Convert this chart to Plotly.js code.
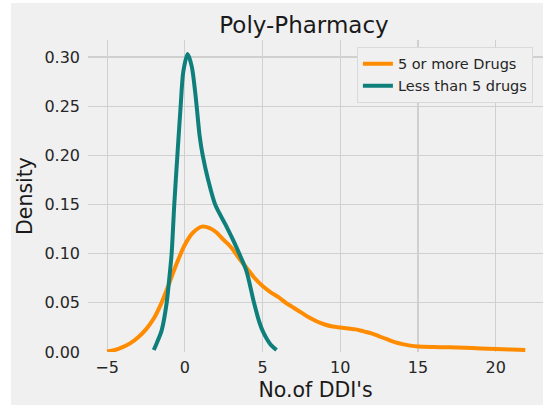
<!DOCTYPE html>
<html>
<head>
<meta charset="utf-8">
<script src="https://cdn.plot.ly/plotly-3.0.1.min.js"></script>
<style>
  html, body { margin: 0; padding: 0; background: #ffffff; overflow: hidden; }
  #chart { position: absolute; left: 11px; top: 3px; width: 532px; height: 402px; }
</style>
</head>
<body>
<div id="chart"></div>
<script>
// Series names
const seriesNames = ["5 or more Drugs", "Less than 5 drugs"];

// KDE curve for "5 or more Drugs"
const moreX = [-5.0, -4.5, -4.0, -3.5, -3.0, -2.5, -2.0, -1.5, -1.0, -0.5, 0.0, 0.5, 1.1, 1.6, 2.0, 2.5, 3.0, 3.5, 4.0, 4.5, 5.0, 5.5, 6.0, 6.5, 7.0, 7.5, 8.0, 8.5, 9.0, 9.5, 10.0, 10.5, 11.0, 11.5, 12.0, 12.5, 13.0, 13.5, 14.0, 14.5, 15.0, 16.0, 17.0, 18.0, 19.0, 20.0, 21.0, 21.9];
const moreY = [0.0005, 0.002, 0.005, 0.009, 0.015, 0.023, 0.034, 0.050, 0.070, 0.091, 0.109, 0.121, 0.1275, 0.126, 0.122, 0.114, 0.106, 0.095, 0.085, 0.075, 0.067, 0.061, 0.056, 0.050, 0.045, 0.040, 0.035, 0.031, 0.028, 0.026, 0.025, 0.024, 0.023, 0.021, 0.019, 0.016, 0.013, 0.010, 0.008, 0.0065, 0.0055, 0.005, 0.0048, 0.0043, 0.0036, 0.003, 0.0025, 0.002];

// KDE curve for "Less than 5 drugs"
const lessX = [-2.0, -1.81, -1.49, -1.17, -1.0, -0.85, -0.68, -0.48, -0.27, -0.1, 0.18, 0.45, 0.66, 0.76, 0.95, 1.15, 1.5, 1.95, 2.6, 3.1, 3.5, 3.95, 4.45, 4.8, 5.05, 5.5, 5.9];
const lessY = [0.002, 0.009, 0.022, 0.05, 0.075, 0.10, 0.15, 0.20, 0.25, 0.285, 0.303, 0.29, 0.265, 0.25, 0.22, 0.20, 0.175, 0.15, 0.13, 0.114, 0.10, 0.083, 0.05, 0.03, 0.02, 0.008, 0.002];

// Tick labels
const xTickVals = [-5, 0, 5, 10, 15, 20];
const xTickText = ["\u22125", "0", "5", "10", "15", "20"];
const yTickVals = [0, 0.05, 0.10, 0.15, 0.20, 0.25, 0.30];
const yTickText = ["0.00", "0.05", "0.10", "0.15", "0.20", "0.25", "0.30"];

const FONT = "DejaVu Sans, sans-serif";
const TXT = "#262626";

const traces = [
  { x: moreX, y: moreY, name: seriesNames[0], type: "scatter", mode: "lines",
    line: { color: "#ff8c00", width: 4, shape: "spline", smoothing: 0.8 } },
  { x: lessX, y: lessY, name: seriesNames[1], type: "scatter", mode: "lines",
    line: { color: "#0e7f7b", width: 4, shape: "spline", smoothing: 0.8 } }
];

const layout = {
  width: 532, height: 402,
  paper_bgcolor: "#f0f0f0", plot_bgcolor: "#f0f0f0",
  margin: { l: 77, r: 0, t: 37, b: 53, pad: 0 },
  font: { family: FONT, color: TXT, size: 16 },
  title: { text: "Poly-Pharmacy", font: { family: FONT, size: 23, color: "#1a1a1a" },
           xref: "paper", x: 0.4747, xanchor: "center",
           yref: "container", y: 0.945, yanchor: "middle" },
  xaxis: {
    range: [-6.23, 23.04], tickvals: xTickVals, ticktext: xTickText,
    showgrid: true, gridcolor: "#d0d0d0", gridwidth: 1.2, zeroline: false, showline: false,
    ticks: "", ticklabelstandoff: 4, tickfont: { size: 16, color: TXT },
    title: { text: "No.of DDI's", font: { size: 20.5, color: "#1a1a1a" }, standoff: 6 },
    automargin: false, fixedrange: true
  },
  yaxis: {
    range: [0, 0.3173], tickvals: yTickVals, ticktext: yTickText,
    showgrid: true, gridcolor: "#d0d0d0", gridwidth: 1.2, zeroline: false, showline: false,
    ticks: "", ticklabelstandoff: 7, tickfont: { size: 16, color: TXT },
    title: { text: "Density", font: { size: 20.5, color: "#1a1a1a" }, standoff: 6 },
    automargin: false, fixedrange: true
  },
  showlegend: true,
  legend: {
    x: 0.591, y: 0.978, xanchor: "left", yanchor: "top",
    bgcolor: "#f0f0f0", bordercolor: "#d9d9d9", borderwidth: 1,
    font: { family: FONT, size: 14.5, color: TXT },
    tracegroupgap: 0
  }
};

Plotly.newPlot("chart", traces, layout, { displayModeBar: false, staticPlot: true });
</script>
</body>
</html>
